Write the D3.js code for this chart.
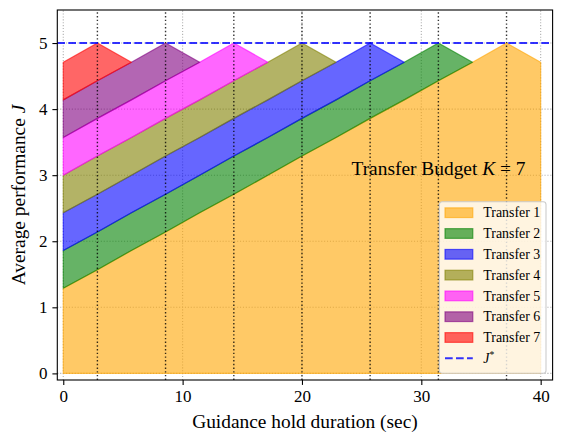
<!DOCTYPE html>
<html>
<head>
<meta charset="utf-8">
<script src="https://cdn.jsdelivr.net/npm/d3@7"></script>
<style>
	body { margin: 0; background: #fff; }
	svg { display: block; font-family: "Liberation Serif", "Times New Roman", serif; }
</style>
</head>
<body>
<div id="chart"></div>
<script>

// hold durations (sec) where the curves bend
const durations = [0, 2.86, 5.71, 8.57, 11.43, 14.29, 17.14, 20, 22.86, 25.71, 28.57, 31.43, 34.29, 37.14, 40];

// top edge of each transfer band, read at the durations above
const transfer1 = [1.29, 1.57, 1.86, 2.14, 2.43, 2.71, 3.00, 3.29, 3.57, 3.86, 4.14, 4.43, 4.71, 5.00, 4.71];
const transfer2 = [1.86, 2.14, 2.43, 2.71, 3.00, 3.29, 3.57, 3.86, 4.14, 4.43, 4.71, 5.00, 4.71];
const transfer3 = [2.43, 2.71, 3.00, 3.29, 3.57, 3.86, 4.14, 4.43, 4.71, 5.00, 4.71];
const transfer4 = [3.00, 3.29, 3.57, 3.86, 4.14, 4.43, 4.71, 5.00, 4.71];
const transfer5 = [3.57, 3.86, 4.14, 4.43, 4.71, 5.00, 4.71];
const transfer6 = [4.14, 4.43, 4.71, 5.00, 4.71];
const transfer7 = [4.71, 5.00, 4.71];

const transferLabels = ["Transfer 1", "Transfer 2", "Transfer 3", "Transfer 4", "Transfer 5", "Transfer 6", "Transfer 7"];
const transferColors = ["#FFA500", "#008000", "#0000FF", "#808000", "#FF00FF", "#800080", "#FF0000"];

// peak positions (dotted verticals) and optimum
const peakTimes = [2.86, 8.57, 14.29, 20, 25.71, 31.43, 37.14];
const jStar = 5;

const xTicks = [0, 10, 20, 30, 40];
const yTicks = [0, 1, 2, 3, 4, 5];

const width = 563, height = 441;
const margin = { left: 57.3, top: 10, right: 563 - 552.6, bottom: 441 - 380 };

const svg = d3.select("#chart").append("svg")
	.attr("width", width)
	.attr("height", height);

const x = d3.scaleLinear().domain([-0.5, 41]).range([margin.left, width - margin.right]);
const y = d3.scaleLinear().domain([-0.1, 5.5]).range([height - margin.bottom, margin.top]);

const plot = svg.append("g");

// grid
plot.append("g").selectAll("line")
	.data(xTicks)
	.join("line")
	.attr("x1", d => x(d)).attr("x2", d => x(d))
	.attr("y1", y.range()[0]).attr("y2", y.range()[1])
	.attr("stroke", "#b0b0b0").attr("stroke-width", 1.1)
	.attr("stroke-dasharray", "1.1,1.8");

plot.append("g").selectAll("line")
	.data(yTicks)
	.join("line")
	.attr("y1", d => y(d)).attr("y2", d => y(d))
	.attr("x1", x.range()[0]).attr("x2", x.range()[1])
	.attr("stroke", "#b0b0b0").attr("stroke-width", 1.1)
	.attr("stroke-dasharray", "1.1,1.8");

// bands: each transfer sits between previous curve and its own
const curves = [transfer1, transfer2, transfer3, transfer4, transfer5, transfer6, transfer7];

const bands = curves.map((upper, k) => {
	const lower = k === 0 ? upper.map(() => 0) : curves[k - 1];
	return upper.map((v, i) => ({ t: durations[i], lo: lower[i], hi: v }));
});

const area = d3.area()
	.x(d => x(d.t))
	.y0(d => y(d.lo))
	.y1(d => y(d.hi));

plot.append("g").selectAll("path")
	.data(bands)
	.join("path")
	.attr("d", d => area(d) + "")
	.attr("fill", (d, i) => transferColors[i])
	.attr("fill-opacity", 0.6)
	.attr("stroke", (d, i) => transferColors[i])
	.attr("stroke-opacity", 0.6)
	.attr("stroke-width", 1.2)
	.attr("stroke-linejoin", "round");

// dotted peak markers
plot.append("g").selectAll("line")
	.data(peakTimes)
	.join("line")
	.attr("x1", d => x(d)).attr("x2", d => x(d))
	.attr("y1", y.range()[0]).attr("y2", y.range()[1])
	.attr("stroke", "#000").attr("stroke-opacity", 0.8).attr("stroke-width", 1.4)
	.attr("stroke-dasharray", "1.4,2.3");

// J* line
plot.append("line")
	.attr("x1", x.range()[0]).attr("x2", x.range()[1])
	.attr("y1", y(jStar)).attr("y2", y(jStar))
	.attr("stroke", "#0000FF").attr("stroke-opacity", 0.8).attr("stroke-width", 2.1)
	.attr("stroke-dasharray", "7.7,3.3");

// annotation
const note = svg.append("text")
	.attr("x", x(24.15)).attr("y", y(3.0))
	.attr("font-size", "19.4px").attr("fill", "#000");
note.append("tspan").text("Transfer Budget ");
note.append("tspan").attr("font-style", "italic").text("K");
note.append("tspan").text(" = 7");

// axes
const xAxis = svg.append("g")
	.attr("transform", `translate(0,${height - margin.bottom})`)
	.call(d3.axisBottom(x).tickValues(xTicks).tickSize(4.9).tickPadding(4.9).tickFormat(d3.format("d")));
const yAxis = svg.append("g")
	.attr("transform", `translate(${margin.left},0)`)
	.call(d3.axisLeft(y).tickValues(yTicks).tickSize(4.9).tickPadding(4.9).tickFormat(d3.format("d")));

[xAxis, yAxis].forEach(a => {
	a.select(".domain").remove();
	a.selectAll("line").attr("stroke", "#000").attr("stroke-width", 1.1);
	a.selectAll("text").attr("font-size", "17px").attr("font-family", "Liberation Serif, serif").attr("fill", "#000");
});

svg.append("rect")
	.attr("x", x.range()[0]).attr("y", y.range()[1])
	.attr("width", x.range()[1] - x.range()[0])
	.attr("height", y.range()[0] - y.range()[1])
	.attr("fill", "none").attr("stroke", "#000").attr("stroke-width", 1.1);

svg.append("text")
	.attr("x", (x.range()[0] + x.range()[1]) / 2)
	.attr("y", 428)
	.attr("text-anchor", "middle")
	.attr("font-size", "19.4px")
	.text("Guidance hold duration (sec)");

const ylab = svg.append("text")
	.attr("transform", `translate(24.5,${(y.range()[0] + y.range()[1]) / 2}) rotate(-90)`)
	.attr("text-anchor", "middle")
	.attr("font-size", "19.4px");
ylab.append("tspan").text("Average performance ");
ylab.append("tspan").attr("font-style", "italic").text("J");

// legend
const legend = svg.append("g").attr("transform", "translate(439.3,201.7)");
legend.append("rect")
	.attr("width", 106.7).attr("height", 171.6)
	.attr("rx", 2.8)
	.attr("fill", "#fff").attr("fill-opacity", 0.8)
	.attr("stroke", "#cccccc").attr("stroke-width", 1.1);

const rowH = 20.8;
const items = legend.selectAll("g.item")
	.data(transferLabels)
	.join("g")
	.attr("class", "item")
	.attr("transform", (d, i) => `translate(0,${11 + i * rowH})`);

items.append("rect")
	.attr("x", 5.7).attr("y", -4.85)
	.attr("width", 27.8).attr("height", 9.7)
	.attr("fill", (d, i) => transferColors[i]).attr("fill-opacity", 0.6)
	.attr("stroke", (d, i) => transferColors[i]).attr("stroke-opacity", 0.6)
	.attr("stroke-width", 1.2);

items.append("text")
	.attr("x", 44).attr("y", 4.7)
	.attr("font-size", "13.9px")
	.text(d => d);

const jRow = legend.append("g").attr("transform", `translate(0,${11 + 7 * rowH})`);
jRow.append("line")
	.attr("x1", 5.7).attr("x2", 33.5)
	.attr("stroke", "#0000FF").attr("stroke-opacity", 0.8).attr("stroke-width", 2.1)
	.attr("stroke-dasharray", "7.7,3.3");
const jText = jRow.append("text").attr("x", 44).attr("y", 4.7).attr("font-size", "13.9px");
jText.append("tspan").attr("font-style", "italic").text("J");
jText.append("tspan").attr("font-size", "9.7px").attr("dy", -5).text("*");

</script>
</body>
</html>
